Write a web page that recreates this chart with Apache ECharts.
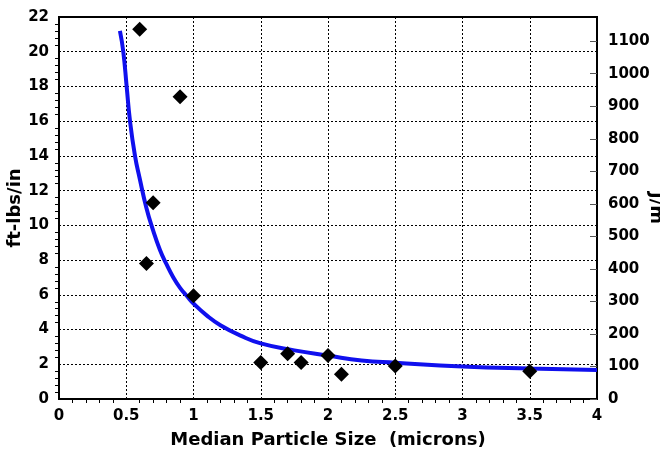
<!DOCTYPE html>
<html>
<head>
<meta charset="utf-8">
<script src="https://cdn.jsdelivr.net/npm/echarts@6/dist/echarts.min.js"></script>
<style>
html, body { margin: 0; padding: 0; background: #fff; }
#chart { width: 660px; height: 456px; }
</style>
</head>
<body>
<div id="chart"></div>
<script>
// measured points (median particle size in microns, impact in ft-lbs/in)
var sizeX = [0.6, 0.65, 0.7, 0.9, 1.0, 1.5, 1.7, 1.8, 2.0, 2.1, 2.5, 3.5];
var impactY = [21.3, 7.8, 11.3, 17.4, 5.95, 2.1, 2.6, 2.1, 2.5, 1.42, 1.9, 1.6];

// fitted curve
var fitX = [0.453, 0.478, 0.503, 0.528, 0.565, 0.6, 0.65, 0.696, 0.75, 0.8, 0.85, 0.9, 0.954, 1.0, 1.1, 1.2, 1.35, 1.5, 1.75, 2.0, 2.25, 2.5, 3.0, 3.5, 4.0];
var fitY = [21.2, 20.0, 18.0, 16.0, 14.0, 12.7, 11.0, 9.8, 8.6, 7.75, 7.0, 6.4, 5.9, 5.5, 4.8, 4.25, 3.65, 3.2, 2.8, 2.5, 2.22, 2.09, 1.87, 1.75, 1.67];

var jmTicks = [0, 100, 200, 300, 400, 500, 600, 700, 800, 900, 1000, 1100];
var ftlbToJm = 53.38;

var labelFont = { color: '#000', fontWeight: 'bold', fontSize: 15, fontFamily: 'DejaVu Sans' };
var nameFont = { color: '#000', fontWeight: 'bold', fontSize: 18, fontFamily: 'DejaVu Sans' };

var myChart = echarts.init(document.getElementById('chart'));
var option = {
    backgroundColor: '#fff',
    animation: false,
    grid: {
        left: 59,
        right: 63,
        top: 17,
        bottom: 57,
        outerBoundsMode: 'none',
        containLabel: false,
        show: true,
        borderColor: '#000',
        borderWidth: 2
    },
    xAxis: {
        type: 'value',
        min: 0,
        max: 4,
        interval: 0.5,
        name: 'Median Particle Size  (microns)',
        nameLocation: 'middle',
        nameGap: 32,
        nameMoveOverlap: false,
        nameTextStyle: nameFont,
        axisLine: { lineStyle: { color: '#000', width: 2 } },
        axisTick: { show: false },
        minorTick: { show: true, splitNumber: 5, length: 4, lineStyle: { color: '#000' } },
        axisLabel: Object.assign({ margin: 10 }, labelFont),
        splitLine: { show: true, lineStyle: { color: '#000', type: [2, 2], width: 1 } }
    },
    yAxis: [{
        type: 'value',
        min: 0,
        max: 22,
        interval: 2,
        name: 'ft-lbs/in',
        nameLocation: 'middle',
        nameGap: 35,
        nameMoveOverlap: false,
        nameTextStyle: nameFont,
        axisLine: { lineStyle: { color: '#000', width: 2 } },
        axisTick: { show: false },
        minorTick: { show: true, splitNumber: 5, length: 4, lineStyle: { color: '#000' } },
        axisLabel: Object.assign({ margin: 10 }, labelFont),
        splitLine: { show: true, lineStyle: { color: '#000', type: [2, 2], width: 1 } }
    }, {
        type: 'value',
        position: 'right',
        min: 0,
        max: 22 * ftlbToJm,
        name: 'J/m',
        nameLocation: 'middle',
        nameRotate: -90,
        nameGap: 50,
        nameMoveOverlap: false,
        nameTextStyle: nameFont,
        axisLine: { show: true, lineStyle: { color: '#000', width: 2 } },
        axisTick: { show: true, inside: true, length: 7, customValues: jmTicks, lineStyle: { color: '#555' } },
        axisLabel: Object.assign({
            margin: 11,
            customValues: jmTicks,
            formatter: function (v) { return String(v); }
        }, labelFont),
        splitLine: { show: false }
    }],
    series: [{
        name: 'fit',
        type: 'line',
        smooth: 0.5,
        showSymbol: false,
        lineStyle: { color: '#1010ee', width: 4 },
        data: fitX.map(function (x, i) { return [x, fitY[i]]; }),
        z: 2
    }, {
        name: 'data',
        type: 'scatter',
        symbol: 'diamond',
        symbolSize: 15,
        itemStyle: { color: '#000', opacity: 1 },
        data: sizeX.map(function (x, i) { return [x, impactY[i]]; }),
        z: 3
    }]
};
myChart.setOption(option);
</script>
</body>
</html>
